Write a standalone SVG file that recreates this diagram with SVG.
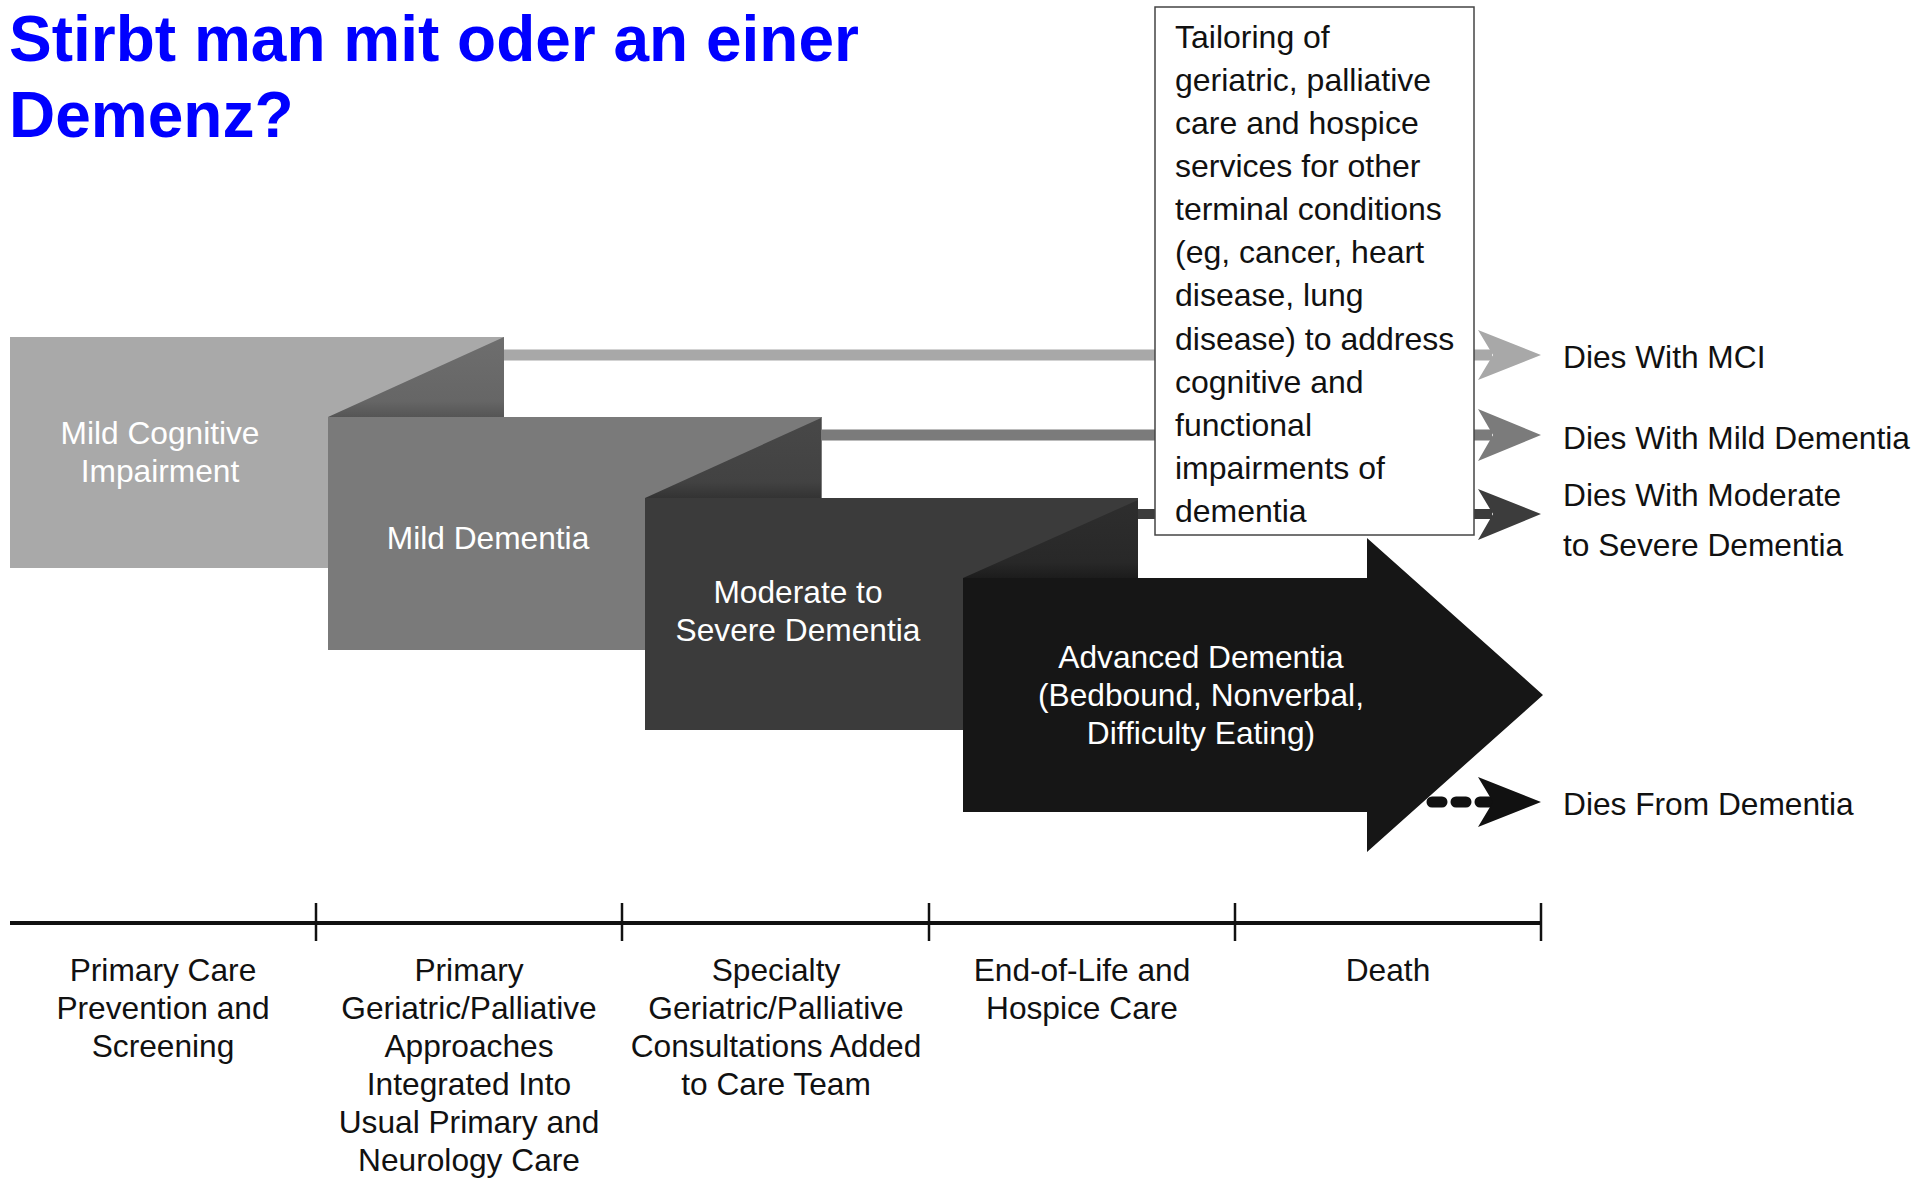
<svg xmlns="http://www.w3.org/2000/svg" width="1914" height="1179" viewBox="0 0 1914 1179">
<defs>
<style>
.t{font-family:"Liberation Sans",Arial,Helvetica,sans-serif;font-size:31.7px}
.b{font-size:32px}
.w{fill:#ffffff}
.k{fill:#111111}
.c{text-anchor:middle}
.title{font-family:"Liberation Sans",Arial,Helvetica,sans-serif;font-size:64px;font-weight:bold;fill:#0000ff}
</style>
<linearGradient id="f1" x1="0" y1="0" x2="0" y2="1"><stop offset="0" stop-color="#6e6e6e"/><stop offset="0.8" stop-color="#666666"/><stop offset="1" stop-color="#555555"/></linearGradient>
<linearGradient id="f2" x1="0" y1="0" x2="0" y2="1"><stop offset="0" stop-color="#484848"/><stop offset="0.8" stop-color="#424242"/><stop offset="1" stop-color="#333333"/></linearGradient>
<linearGradient id="f3" x1="0" y1="0" x2="0" y2="1"><stop offset="0" stop-color="#2e2e2e"/><stop offset="0.8" stop-color="#282828"/><stop offset="1" stop-color="#1c1c1c"/></linearGradient>
</defs>
<rect width="1914" height="1179" fill="#ffffff"/>
<g id="title">
<text class="title" x="9" y="61">Stirbt man mit oder an einer</text>
<text class="title" x="9" y="137">Demenz?</text>
</g>
<g id="connectors">
<line x1="504" y1="355" x2="1492" y2="355" stroke="#a8a8a8" stroke-width="11"/>
<path d="M1478,330 L1541,355 L1478,380 L1493,355 Z" fill="#a8a8a8"/>
<line x1="821" y1="435" x2="1492" y2="435" stroke="#7b7b7b" stroke-width="11"/>
<path d="M1478,409 L1541,435 L1478,461 L1493,435 Z" fill="#7b7b7b"/>
<line x1="1138" y1="514" x2="1492" y2="514" stroke="#3c3c3c" stroke-width="10"/>
<path d="M1478,489 L1541,514 L1478,540 L1493,514 Z" fill="#3c3c3c"/>
<line x1="1432" y1="802" x2="1492" y2="802" stroke="#111111" stroke-width="11" stroke-linecap="round" stroke-dasharray="10 14"/>
<path d="M1478,777 L1541,802 L1478,827 L1493,802 Z" fill="#111111"/>
</g>
<g id="mci">
<rect x="10" y="337" width="494" height="231" fill="#a9a9a9"/>
<text class="t w c" x="160" y="444">Mild Cognitive</text>
<text class="t w c" x="160" y="482">Impairment</text>
</g>
<g id="mild-dementia">
<polygon points="328,417 504,337 504,417" fill="url(#f1)"/>
<rect x="328" y="417" width="494" height="233" fill="#7a7a7a"/>
<text class="t w c" x="488" y="549">Mild Dementia</text>
</g>
<g id="moderate-severe-dementia">
<polygon points="645,498 821,418 821,498" fill="url(#f2)"/>
<rect x="645" y="498" width="493" height="232" fill="#3b3b3b"/>
<text class="t w c" x="798" y="603">Moderate to</text>
<text class="t w c" x="798" y="641">Severe Dementia</text>
</g>
<g id="advanced-dementia">
<polygon points="963,578 1138,500 1138,578" fill="url(#f3)"/>
<polygon points="963,578 1367,578 1367,538 1543,695 1367,852 1367,812 963,812" fill="#161616"/>
<text class="t w c" x="1201" y="668">Advanced Dementia</text>
<text class="t w c" x="1201" y="706">(Bedbound, Nonverbal,</text>
<text class="t w c" x="1201" y="744">Difficulty Eating)</text>
</g>
<g id="tailoring-box">
<rect x="1155" y="7" width="319" height="528" fill="#ffffff" stroke="#444444" stroke-width="1.5"/>
<text class="t b k" x="1175" y="48">Tailoring of</text>
<text class="t b k" x="1175" y="91">geriatric, palliative</text>
<text class="t b k" x="1175" y="134">care and hospice</text>
<text class="t b k" x="1175" y="177">services for other</text>
<text class="t b k" x="1175" y="220">terminal conditions</text>
<text class="t b k" x="1175" y="263">(eg, cancer, heart</text>
<text class="t b k" x="1175" y="306">disease, lung</text>
<text class="t b k" x="1175" y="350">disease) to address</text>
<text class="t b k" x="1175" y="393">cognitive and</text>
<text class="t b k" x="1175" y="436">functional</text>
<text class="t b k" x="1175" y="479">impairments of</text>
<text class="t b k" x="1175" y="522">dementia</text>
</g>
<g id="outcomes">
<text class="t k" x="1563" y="368">Dies With MCI</text>
<text class="t k" x="1563" y="449">Dies With Mild Dementia</text>
<text class="t k" x="1563" y="506">Dies With Moderate</text>
<text class="t k" x="1563" y="556">to Severe Dementia</text>
<text class="t k" x="1563" y="815">Dies From Dementia</text>
</g>
<g id="timeline">
<line x1="10" y1="923" x2="1542" y2="923" stroke="#111111" stroke-width="4"/>
<g stroke="#111111" stroke-width="2.5">
<line x1="316" y1="903" x2="316" y2="941"/>
<line x1="622" y1="903" x2="622" y2="941"/>
<line x1="929" y1="903" x2="929" y2="941"/>
<line x1="1235" y1="903" x2="1235" y2="941"/>
<line x1="1541" y1="903" x2="1541" y2="941"/>
</g>
<text class="t k c" x="163" y="981">Primary Care</text>
<text class="t k c" x="163" y="1019">Prevention and</text>
<text class="t k c" x="163" y="1057">Screening</text>
<text class="t k c" x="469" y="981">Primary</text>
<text class="t k c" x="469" y="1019">Geriatric/Palliative</text>
<text class="t k c" x="469" y="1057">Approaches</text>
<text class="t k c" x="469" y="1095">Integrated Into</text>
<text class="t k c" x="469" y="1133">Usual Primary and</text>
<text class="t k c" x="469" y="1171">Neurology Care</text>
<text class="t k c" x="776" y="981">Specialty</text>
<text class="t k c" x="776" y="1019">Geriatric/Palliative</text>
<text class="t k c" x="776" y="1057">Consultations Added</text>
<text class="t k c" x="776" y="1095">to Care Team</text>
<text class="t k c" x="1082" y="981">End-of-Life and</text>
<text class="t k c" x="1082" y="1019">Hospice Care</text>
<text class="t k c" x="1388" y="981">Death</text>
</g>
</svg>
